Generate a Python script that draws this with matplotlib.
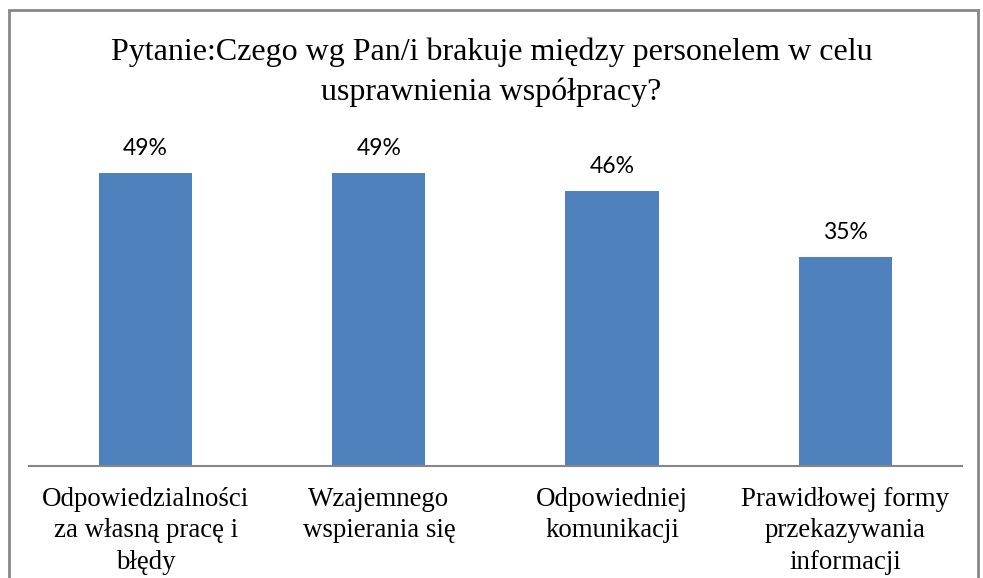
import matplotlib.pyplot as plt
from matplotlib.patches import Rectangle

# Data
categories = ['Odpowiedzialności\nza własną pracę i\nbłędy',
              'Wzajemnego\nwspierania się',
              'Odpowiedniej\nkomunikacji',
              'Prawidłowej formy\nprzekazywania\ninformacji']
values = [49, 49, 46, 35]
value_labels = ['49%', '49%', '46%', '35%']
title = 'Pytanie:Czego wg Pan/i brakuje między personelem w celu\nusprawnienia współpracy?'

fig = plt.figure(figsize=(9.83, 5.78), dpi=100)
ax = fig.add_axes([0.0295, 0.1938, 0.949, 0.621])

x = range(len(values))
ax.bar(x, values, width=0.40, color='#4f81bd')
ax.set_xlim(-0.5, len(values) - 0.5)
ax.set_ylim(0, 60)

for i, (v, lab) in enumerate(zip(values, value_labels)):
    ax.annotate(lab, (i, v), xytext=(0, 10), textcoords='offset points',
                ha='center', va='bottom', fontsize=16.5, family='Lato')

ax.set_xticks(list(x))
ax.set_xticklabels(categories, fontsize=19.4, family='Liberation Serif', linespacing=1.35)
ax.tick_params(axis='x', length=0, pad=15)
ax.set_yticks([])
for s in ['top', 'right', 'left']:
    ax.spines[s].set_visible(False)
ax.spines['bottom'].set_color('#868686')
ax.spines['bottom'].set_linewidth(1.5)

fig.text(0.5, 0.875, title, ha='center', va='center', fontsize=23,
         family='Liberation Serif', linespacing=1.45)

# chart border
fig.patches.append(Rectangle((9 / 983, -0.01), 969 / 983, 1 - 10 / 578 + 0.01,
                             transform=fig.transFigure, fill=False,
                             edgecolor='#878787', linewidth=2))

fig.savefig('out.png', dpi=100)
